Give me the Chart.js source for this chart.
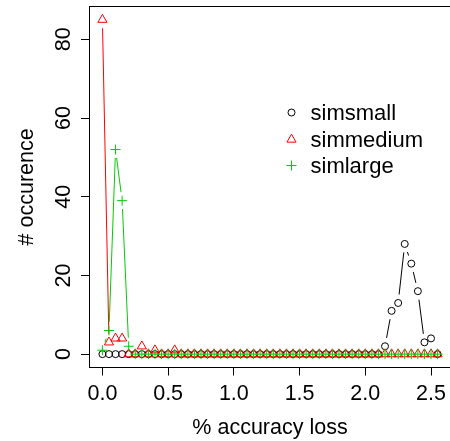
<!DOCTYPE html>
<html lang="en">
<head>
    <meta charset="UTF-8">
    <title>Accuracy loss</title>
    <script src="https://cdn.jsdelivr.net/npm/chart.js"></script>
    <style>
        * {
            box-sizing: border-box;
            margin: 0;
            padding: 0;
        }
        body {
            background: #fff;
            width: 450px;
            height: 441px;
            overflow: hidden;
        }
        canvas {
            display: block;
        }
    </style>
</head>
<body>
    <canvas id="lossChart" width="460" height="441"></canvas>

    <script>
        // % accuracy loss buckets
        const lossSteps = [
            0, 0.05, 0.1, 0.15, 0.2, 0.25, 0.3, 0.35, 0.4, 0.45,
            0.5, 0.55, 0.6, 0.65, 0.7, 0.75, 0.8, 0.85, 0.9, 0.95,
            1, 1.05, 1.1, 1.15, 1.2, 1.25, 1.3, 1.35, 1.4, 1.45,
            1.5, 1.55, 1.6, 1.65, 1.7, 1.75, 1.8, 1.85, 1.9, 1.95,
            2, 2.05, 2.1, 2.15, 2.2, 2.25, 2.3, 2.35, 2.4, 2.45,
            2.5, 2.55
        ];
        const simsmall = [
            0, 0, 0, 0, 0, 0, 0, 0, 0, 0,
            0, 0, 0, 0, 0, 0, 0, 0, 0, 0,
            0, 0, 0, 0, 0, 0, 0, 0, 0, 0,
            0, 0, 0, 0, 0, 0, 0, 0, 0, 0,
            0, 0, 0, 2, 11, 13, 28, 23, 16, 3,
            4, 0
        ];
        const simmedium = [
            85, 3, 4, 4, 0, 0, 2, 0, 1, 0,
            0, 1, 0, 0, 0, 0, 0, 0, 0, 0,
            0, 0, 0, 0, 0, 0, 0, 0, 0, 0,
            0, 0, 0, 0, 0, 0, 0, 0, 0, 0,
            0, 0, 0, 0, 0, 0, 0, 0, 0, 0,
            0, 0
        ];
        const simlarge = [
            1, 6, 52, 39, 2, 0, 0, 0, 0, 0,
            0, 0, 0, 0, 0, 0, 0, 0, 0, 0,
            0, 0, 0, 0, 0, 0, 0, 0, 0, 0,
            0, 0, 0, 0, 0, 0, 0, 0, 0, 0,
            0, 0, 0, 0, 0, 0, 0, 0, 0, 0,
            0, 0
        ];
        const xTicks = [0, 0.5, 1, 1.5, 2, 2.5];
        const xTickLabels = ['0.0', '0.5', '1.0', '1.5', '2.0', '2.5'];
        const yTicks = [0, 20, 40, 60, 80];

        const FONT = '"Liberation Sans", Arial, Helvetica, sans-serif';
        const GAP = 8.5; // space left between a point and its connecting line

        const toPoints = values => values.map((v, i) => ({ x: lossSteps[i], y: v }));

        const series = [
            { label: 'simsmall', data: simsmall, color: '#000000', style: 'circle', radius: 3.5 },
            { label: 'simmedium', data: simmedium, color: '#ff0000', style: 'triangle', radius: 5.3 },
            { label: 'simlarge', data: simlarge, color: '#00cd00', style: 'cross', radius: 5 }
        ];

        // lines between points, broken near each marker
        const gapLines = {
            id: 'gapLines',
            beforeDatasetDraw(chart, args) {
                const ds = chart.data.datasets[args.index];
                const pts = args.meta.data;
                const ctx = chart.ctx;
                ctx.save();
                ctx.strokeStyle = ds.borderColor;
                ctx.lineWidth = 1;
                ctx.beginPath();
                for (let i = 1; i < pts.length; i++) {
                    const a = pts[i - 1], b = pts[i];
                    const dx = b.x - a.x, dy = b.y - a.y;
                    const len = Math.hypot(dx, dy);
                    if (len <= 2 * GAP) continue;
                    const ux = dx / len, uy = dy / len;
                    ctx.moveTo(a.x + ux * GAP, a.y + uy * GAP);
                    ctx.lineTo(b.x - ux * GAP, b.y - uy * GAP);
                }
                ctx.stroke();
                ctx.restore();
            }
        };

        const align = v => Math.round(v - 0.5) + 0.5;

        // frame, tick labels, axis titles and legend
        const decorations = {
            id: 'decorations',
            afterDraw(chart) {
                const ctx = chart.ctx;
                const area = chart.chartArea;
                const xs = chart.scales.x;
                const ys = chart.scales.y;
                ctx.save();

                ctx.strokeStyle = '#000';
                ctx.lineWidth = 1;
                const l = align(area.left), t = align(area.top);
                const r = align(area.right), b = align(area.bottom);
                ctx.strokeRect(l, t, r - l, b - t);

                ctx.fillStyle = '#000';
                ctx.font = '21.5px ' + FONT;
                ctx.textAlign = 'center';
                ctx.textBaseline = 'alphabetic';

                xTicks.forEach((v, i) => {
                    ctx.fillText(xTickLabels[i], xs.getPixelForValue(v), 400);
                });
                ctx.fillText('% accuracy loss', (area.left + area.right) / 2, 434);

                yTicks.forEach(v => {
                    ctx.save();
                    ctx.translate(70, ys.getPixelForValue(v));
                    ctx.rotate(-Math.PI / 2);
                    ctx.fillText(String(v), 0, 0);
                    ctx.restore();
                });
                ctx.save();
                ctx.translate(33.3, (area.top + area.bottom) / 2);
                ctx.rotate(-Math.PI / 2);
                ctx.fillText('# occurence', 0, 0);
                ctx.restore();

                // legend
                ctx.font = '22px ' + FONT;
                ctx.textAlign = 'left';
                const rows = [112.5, 139.5, 165.5];
                series.forEach((s, i) => {
                    ctx.strokeStyle = s.color;
                    ctx.fillStyle = 'rgba(0,0,0,0)';
                    ctx.lineWidth = 1;
                    Chart.helpers.drawPoint(ctx, {
                        pointStyle: s.style,
                        radius: s.radius,
                        rotation: 0,
                        borderWidth: 1
                    }, 291.5, rows[i]);
                    ctx.fillStyle = '#000';
                    ctx.fillText(s.label, 310.5, rows[i] + 7.3);
                });

                ctx.restore();
            }
        };

        new Chart(document.getElementById('lossChart'), {
            type: 'line',
            data: {
                datasets: series.map((s, i) => ({
                    label: s.label,
                    data: toPoints(s.data),
                    showLine: false,
                    borderColor: s.color,
                    backgroundColor: s.color,
                    pointStyle: s.style,
                    pointRadius: s.radius,
                    pointHoverRadius: s.radius,
                    pointBorderWidth: 1,
                    pointBorderColor: s.color,
                    pointBackgroundColor: 'rgba(0,0,0,0)',
                    order: series.length - i
                }))
            },
            options: {
                responsive: false,
                animation: false,
                events: [],
                layout: {
                    padding: { left: 0, top: 4.2, right: 9, bottom: 0 }
                },
                plugins: {
                    legend: { display: false },
                    tooltip: { enabled: false }
                },
                scales: {
                    x: {
                        type: 'linear',
                        min: -0.102,
                        max: 2.652,
                        afterBuildTicks: s => { s.ticks = xTicks.map(v => ({ value: v })); },
                        afterFit: s => { s.height = 73.5; },
                        ticks: { display: false },
                        grid: {
                            drawOnChartArea: false,
                            drawTicks: true,
                            tickLength: 8,
                            color: '#000'
                        },
                        border: { display: false }
                    },
                    y: {
                        type: 'linear',
                        min: -3.4,
                        max: 88.4,
                        afterBuildTicks: s => { s.ticks = yTicks.map(v => ({ value: v })); },
                        afterFit: s => { s.width = 89; },
                        ticks: { display: false },
                        grid: {
                            drawOnChartArea: false,
                            drawTicks: true,
                            tickLength: 8,
                            color: '#000'
                        },
                        border: { display: false }
                    }
                }
            },
            plugins: [gapLines, decorations]
        });
    </script>
</body>
</html>
